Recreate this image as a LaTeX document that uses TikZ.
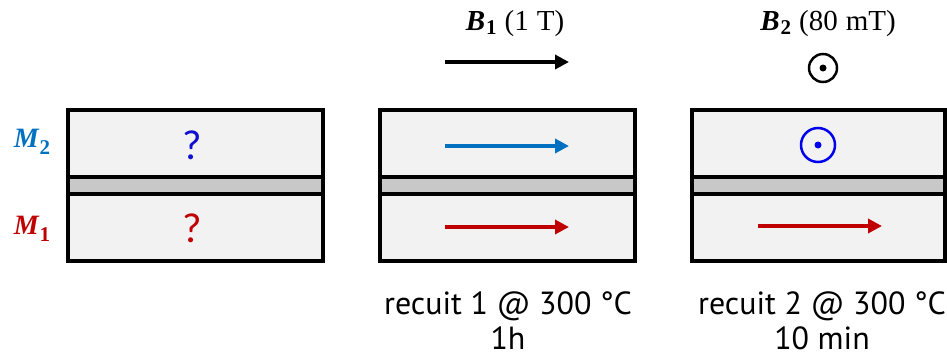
\documentclass[tikz,border=0pt]{standalone}
\usepackage{fontspec}
\usetikzlibrary{arrows.meta}
\newfontfamily\sansf{PT Sans}
\newfontfamily\qfont{Carlito}
\newfontfamily\serf{Liberation Serif}
\definecolor{layerfill}{HTML}{F2F2F2}
\definecolor{spacerfill}{HTML}{C8C8C8}
\definecolor{mtwo}{HTML}{0070C0}
\definecolor{mone}{HTML}{C00000}
\definecolor{qblue}{HTML}{1010D0}
\definecolor{cblue}{HTML}{0000EE}
\newcommand\symb[1]{{\serf\bfseries\itshape #1}}
\newcommand\msub[1]{\kern1pt\raisebox{-7pt}{\serf\fontsize{21}{24}\selectfont\bfseries #1}}
\newcommand\bsub[1]{\kern1pt\raisebox{-4pt}{\serf\fontsize{21}{24}\selectfont\bfseries #1}}
\tikzset{
  layer/.style={fill=layerfill, draw=black, line width=4pt},
  spacer/.style={fill=spacerfill, draw=black, line width=4pt},
  magarrow/.style={line width=4.5pt, -{Triangle[length=14pt,width=14pt]}},
  mlabel/.style={font=\fontsize{28}{32}\selectfont, anchor=base, inner sep=0pt},
  blabel/.style={font=\fontsize{29}{32}\selectfont, anchor=base, inner sep=0pt},
  qmark/.style={font=\qfont\fontsize{42}{46}\selectfont, inner sep=0pt},
  anneal/.style={font=\sansf\fontsize{32}{36}\selectfont, anchor=base, inner sep=0pt},
}
\begin{document}
\begin{tikzpicture}[x=1pt,y=-1pt]
\useasboundingbox (0,0) rectangle (947,356);
\fill[white] (0,0) rectangle (947,356);

% stack 1
\draw[spacer] (68,177) rectangle (323,194);
\draw[layer] (68,110) rectangle (323,177);
\draw[layer] (68,194) rectangle (323,261);
% stack 2
\draw[spacer] (380,177) rectangle (635,194);
\draw[layer] (380,110) rectangle (635,177);
\draw[layer] (380,194) rectangle (635,261);
% stack 3
\draw[spacer] (692,177) rectangle (945,194);
\draw[layer] (692,110) rectangle (945,177);
\draw[layer] (692,194) rectangle (945,261);

% layer labels
\node[mlabel, text=mtwo] (m2) at (32,147) {\symb{M}\msub{2}};
\node[mlabel, text=mone] (m1) at (32,234) {\symb{M}\msub{1}};

% question marks
\node[qmark, text=qblue] (q2) at (192,145) {?};
\node[qmark, text=mone] (q1) at (192,228) {?};

% stack 2 arrows
\coordinate (b2s) at (445,146);
\coordinate (b2e) at (569,146);
\draw[magarrow, mtwo] (b2s) -- (b2e);
\coordinate (r2s) at (445,227);
\coordinate (r2e) at (569,227);
\draw[magarrow, mone] (r2s) -- (r2e);

% stack 3
\coordinate (r3s) at (758,226);
\coordinate (r3e) at (882,226);
\draw[magarrow, mone] (r3s) -- (r3e);
\node[circle, draw=cblue, line width=2.5pt, minimum size=34pt, inner sep=0pt] (c3) at (818,145) {};
\fill[cblue] (c3.center) circle (3.5pt);

% fields
\node[blabel] (bone) at (515,30) {\symb{B}\bsub{1}\hspace{8pt}{\serf(1\hspace{8pt}T)}};
\coordinate (f1s) at (445,62);
\coordinate (f1e) at (569,62);
\draw[magarrow, black] (f1s) -- (f1e);
\node[blabel] (btwo) at (828,30) {\symb{B}\bsub{2}\hspace{8pt}{\serf(80\hspace{8pt}mT)}};
\node[circle, draw=black, line width=2.5pt, minimum size=28pt, inner sep=0pt] (c2) at (823,68) {};
\fill[black] (c2.center) circle (3.5pt);

% anneal labels
\node[anneal] (a1) at (508,314) {recuit 1 @ 300 °C};
\node[anneal] (a1b) at (508,349) {1h};
\node[anneal] (a2) at (822,314) {recuit 2 @ 300 °C};
\node[anneal] (a2b) at (822,349) {10 min};
\end{tikzpicture}
\end{document}
